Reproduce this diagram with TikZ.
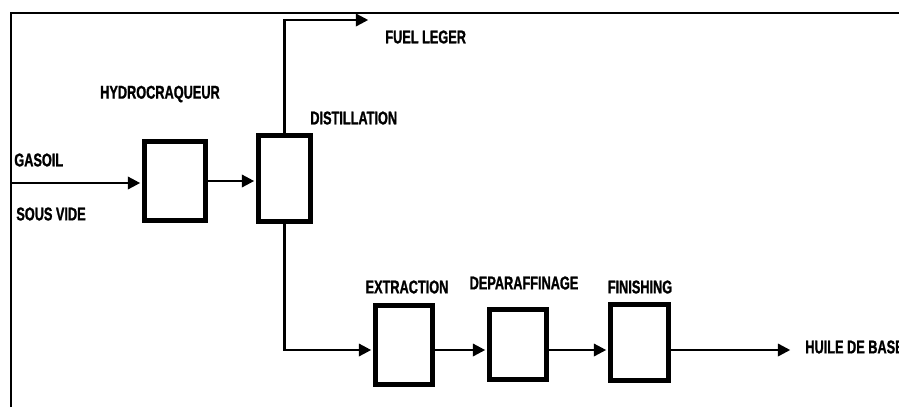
\documentclass[tikz,border=0pt]{standalone}
\usepackage{fontspec}
\setmainfont{Liberation Sans}[FakeStretch=0.69, BoldFeatures={FakeBold=1.2}]
\usetikzlibrary{arrows.meta}

\begin{document}
\begin{tikzpicture}[x=0.02cm, y=-0.02cm]
\tikzset{
  unit/.style={draw, line width=2.9pt, inner sep=0pt},
  lbl/.style={inner sep=0pt, font=\fontsize{10.5}{12}\selectfont\bfseries},
  flow/.style={line width=1.4pt, shorten >=1pt, -{Triangle[length=7pt,width=7pt]}}
}
\useasboundingbox (0,0) rectangle (899,407);
% cadre
\draw[line width=1.1pt] (11,407) -- (11,13) -- (899,13);
% unites
\node[unit, minimum width=1.22cm, minimum height=1.58cm] (hydro) at (175,181) {};
\node[unit, minimum width=1.04cm, minimum height=1.72cm] (dist) at (284.5,178.5) {};
\node[unit, minimum width=1.14cm, minimum height=1.58cm] (extr) at (404,345) {};
\node[unit, minimum width=1.14cm, minimum height=1.40cm] (depar) at (518,344.5) {};
\node[unit, minimum width=1.16cm, minimum height=1.52cm] (finish) at (639.5,342.5) {};
% textes
\node[lbl] (hcq) at (160,94) {HYDROCRAQUEUR};
\node[lbl, anchor=west] (distl) at (310,118) {DISTILLATION};
\node[lbl, anchor=west] (fuell) at (385,37) {FUEL LEGER};
\node[lbl, anchor=west] (gas) at (14,160) {GASOIL};
\node[lbl, anchor=west] (svide) at (16,214) {SOUS VIDE};
\node[lbl] (extl) at (407,287) {EXTRACTION};
\node[lbl] (depl) at (524,283) {DEPARAFFINAGE};
\node[lbl] (finl) at (640,287) {FINISHING};
\node[lbl, anchor=west] (hdb) at (805,347) {HUILE DE BASE};
% flux
\coordinate (feed) at (11,183);
\coordinate (fuel) at (370,20);
\coordinate (row) at (0,350);
\coordinate (base) at (792,350);
\draw[flow] (feed) -- (feed -| hydro.west);
\draw[flow] (hydro.east) -- (hydro.east -| dist.west);
\draw[flow] (dist.north) |- (fuel);
\draw[flow] (dist.south) |- (row -| extr.west);
\draw[flow] (row -| extr.east) -- (row -| depar.west);
\draw[flow] (row -| depar.east) -- (row -| finish.west);
\draw[flow] (row -| finish.east) -- (base);
\end{tikzpicture}
\end{document}
